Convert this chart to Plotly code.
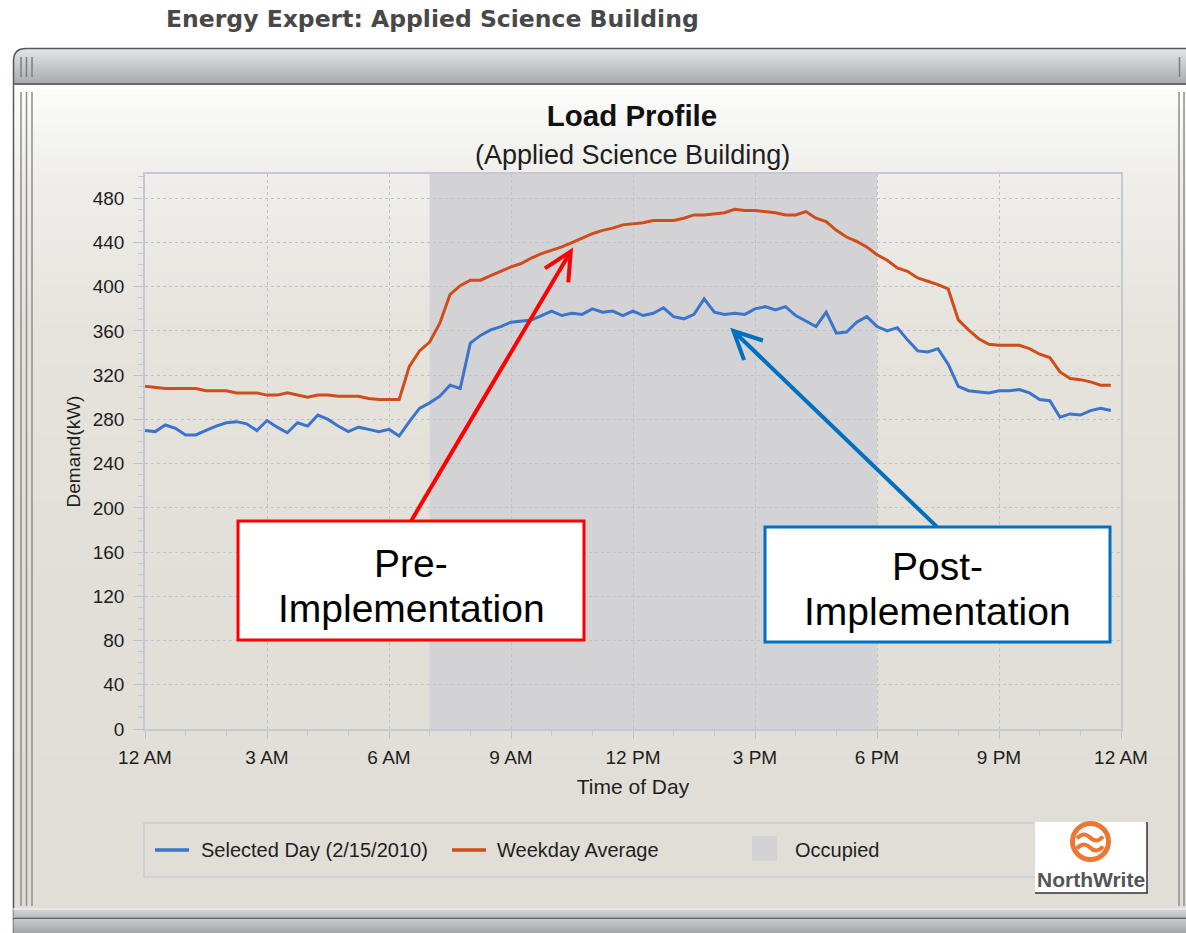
import math
import plotly.graph_objects as go

# ---------------- data ----------------
time_hours = [q / 4 for q in range(96)]  # 15-minute samples, 12 AM .. 11:45 PM

selected_day = [270, 269, 275, 272, 266, 266, 270, 274, 277, 278, 276, 270,
                279, 273, 268, 277, 274, 284, 280, 274, 269, 273, 271, 269,
                271, 265, 278, 290, 295, 301, 311, 308, 349, 356, 361, 364,
                368, 369, 370, 374, 378, 374, 376, 375, 380, 377, 378, 374,
                378, 374, 376, 381, 373, 371, 375, 389, 377, 375, 376, 375,
                380, 382, 379, 382, 374, 369, 364, 377, 358, 359, 368, 373,
                364, 360, 363, 352, 342, 341, 344, 330, 310, 306, 305, 304,
                306, 306, 307, 304, 298, 297, 282, 285, 284, 288, 290, 288]

weekday_average = [310, 309, 308, 308, 308, 308, 306, 306, 306, 304, 304, 304,
                   302, 302, 304, 302, 300, 302, 302, 301, 301, 301, 299, 298,
                   298, 298, 328, 342, 350, 367, 393, 401, 406, 406, 410, 414,
                   418, 421, 426, 430, 433, 436, 440, 444, 448, 451, 453, 456,
                   457, 458, 460, 460, 460, 462, 465, 465, 466, 467, 470, 469,
                   469, 468, 467, 465, 465, 468, 462, 459, 451, 445, 441, 436,
                   429, 424, 417, 414, 408, 405, 402, 398, 370, 361, 353, 348,
                   347, 347, 347, 344, 339, 336, 323, 317, 316, 314, 311, 311]

series_names = ["Selected Day (2/15/2010)", "Weekday Average"]
occupied_label = "Occupied"
occupied_start, occupied_end = 7, 18

x_tick_vals = [0, 3, 6, 9, 12, 15, 18, 21, 24]
x_tick_text = ["12 AM", "3 AM", "6 AM", "9 AM", "12 PM", "3 PM", "6 PM", "9 PM", "12 AM"]
y_tick_vals = [0, 40, 80, 120, 160, 200, 240, 280, 320, 360, 400, 440, 480]
x_range, y_range = [0, 24], [0, 502]

# callout arrows (head, tail) in data units
pre_head, pre_tail = (10.47, 432), (6.54, 188)
post_head, post_tail = (14.47, 360), (19.47, 183)

# ---------------- styling ----------------
W, H = 1186, 933
PL, PT, PW, PH = 145, 174, 976, 555
FONT = "Liberation Sans, Arial, sans-serif"
BLUE = "#3b74cc"
ORANGE = "#cf4d1b"
GRID = "#bcc3cd"
AXIS = "#c3c8d1"
OCC = "#d3d3d5"
TXT = "#1e1e1e"
RED = "#ff0000"
CALLBLUE = "#0070c0"


def fx(x):
    return (x - PL) / PW


def fy(y):
    return (PT + PH - y) / PH


def data_px(h, v):
    return (PL + (h - x_range[0]) * PW / (x_range[1] - x_range[0]),
            PT + PH - (v - y_range[0]) * PH / (y_range[1] - y_range[0]))


shapes = []


def rect(x0, y0, x1, y1, fill=None, line=None, lw=0, layer="below"):
    shapes.append(dict(type="rect", xref="paper", yref="paper",
                       x0=fx(x0), x1=fx(x1), y0=fy(y1), y1=fy(y0),
                       fillcolor=fill or "rgba(0,0,0,0)",
                       line=dict(color=line or "rgba(0,0,0,0)", width=lw),
                       layer=layer))


def seg(x0, y0, x1, y1, color, lw, layer="below"):
    shapes.append(dict(type="line", xref="paper", yref="paper",
                       x0=fx(x0), y0=fy(y0), x1=fx(x1), y1=fy(y1),
                       line=dict(color=color, width=lw), layer=layer))


def path(cmds, fill=None, line=None, lw=0, layer="below"):
    parts = []
    for c, pts in cmds:
        coords = []
        for i in range(0, len(pts), 2):
            coords.append("%.6f,%.6f" % (fx(pts[i]), fy(pts[i + 1])))
        parts.append(c + " ".join(coords))
    shapes.append(dict(type="path", xref="paper", yref="paper",
                       path=" ".join(parts) + (" Z" if fill else ""),
                       fillcolor=fill or "rgba(0,0,0,0)",
                       line=dict(color=line or "rgba(0,0,0,0)", width=lw),
                       layer=layer))


def hex2rgb(h):
    h = h.lstrip("#")
    return [int(h[i:i + 2], 16) for i in (0, 2, 4)]


def gradient(x0, x1, stops, step):
    for (ya, ca), (yb, cb) in zip(stops[:-1], stops[1:]):
        a, b = hex2rgb(ca), hex2rgb(cb)
        y = ya
        while y < yb:
            y2 = min(y + step, yb)
            t = (y - ya) / max(yb - ya, 1)
            c = [round(a[k] + (b[k] - a[k]) * t) for k in range(3)]
            rect(x0, y, x1, y2 + 0.6, fill="rgb(%d,%d,%d)" % tuple(c))
            y = y2


# window content panel (vertical gradient)
gradient(13, 1186, [(84, "#fcfcfb"), (175, "#efeeea"), (330, "#e6e3dd"),
                    (600, "#e2dfd8"), (908, "#e1ded7")], 5)
# title bar
gradient(13, 1186, [(48, "#e3e4e5"), (84, "#a6a9ac")], 2)
# rounded top-left corner mask + frame outline
path([("M", [11, 46]), ("L", [26, 46]), ("L", [26, 48.5]), ("Q", [13.5, 48.5, 13.5, 61]),
      ("L", [11, 61])], fill="white")
path([("M", [13.5, 933]), ("L", [13.5, 61]), ("Q", [13.5, 48.5, 26, 48.5]),
      ("L", [1186, 48.5])], line="#55585b", lw=1.5)
seg(13.5, 84, 1186, 84, "#66696c", 2)
# grips
for gx in (21, 26.5, 32):
    seg(gx, 57, gx, 77, "#7c7f82", 1.5)
    seg(gx, 92, gx, 906, "#8e8e8e", 1.5)
seg(1179.5, 57, 1179.5, 77, "#7c7f82", 1.5)
seg(1179, 92, 1179, 906, "#8e8e8e", 1.5)
seg(1184, 92, 1184, 906, "#8e8e8e", 1.5)
# bottom bar
gradient(13.5, 1186, [(908, "#d6d7d8"), (918, "#b4b6b8")], 2)
seg(13.5, 909, 1186, 909, "#eeeeee", 1.5)
seg(13.5, 918.5, 1186, 918.5, "#5c5e60", 1.5)
gradient(13.5, 1186, [(919.5, "#c4c6c8"), (933, "#9fa2a5")], 2)

# legend (box, keys)
rect(144, 823, 1120, 877, line="#c6cbd3", lw=1.5)
seg(155, 850, 189, 850, BLUE, 3.5)
seg(452, 850, 486, 850, ORANGE, 3.5)
rect(752, 836, 777, 861, fill=OCC)

# NorthWrite logo
rect(1035, 822, 1147, 893, fill="white")
seg(1147, 822, 1147, 893.5, "#333333", 1.5)
seg(1035, 893, 1147.5, 893, "#333333", 1.5)
shapes.append(dict(type="circle", xref="paper", yref="paper",
                   x0=fx(1072.5), x1=fx(1108.5), y0=fy(859.5), y1=fy(823.5),
                   line=dict(color="#ec7633", width=5), layer="below"))
for wy in (837.5, 847.5):
    path([("M", [1077, wy + 1]), ("Q", [1083.5, wy - 6.5, 1090, wy]), ("Q", [1096.5, wy + 6.5, 1103, wy - 1])],
         line="#ec7633", lw=4)

# callout boxes (above plot)
rect(238, 521, 584, 640, fill="white", line=RED, lw=3, layer="above")
rect(765, 527, 1110, 642, fill="white", line=CALLBLUE, lw=3, layer="above")

# callout arrows: shaft + open chevron head
for head, tail, col in ((pre_head, pre_tail, RED), (post_head, post_tail, CALLBLUE)):
    hx, hy = data_px(*head)
    tx, ty = data_px(*tail)
    seg(tx, ty, hx, hy, col, 4, layer="above")
    ang = math.atan2(ty - hy, tx - hx)
    arms = []
    for s in (1, -1):
        a = ang + s * math.radians(26)
        arms.append((hx + 31 * math.cos(a), hy + 31 * math.sin(a)))
    path([("M", [arms[0][0], arms[0][1]]), ("L", [hx, hy]), ("L", [arms[1][0], arms[1][1]])],
         line=col, lw=4, layer="above")

# ---------------- figure ----------------
fig = go.Figure()
fig.add_trace(go.Scatter(x=time_hours, y=selected_day, mode="lines", name=series_names[0],
                         line=dict(color=BLUE, width=3), showlegend=False))
fig.add_trace(go.Scatter(x=time_hours, y=weekday_average, mode="lines", name=series_names[1],
                         line=dict(color=ORANGE, width=3), showlegend=False))
fig.add_vrect(x0=occupied_start, x1=occupied_end, fillcolor=OCC, opacity=1,
              line_width=0, layer="below")


def ann(text, x, y, size, color=TXT, weight="normal", family=FONT, xanchor="center"):
    return dict(text=text, x=fx(x), y=fy(y), xref="paper", yref="paper",
                showarrow=False, xanchor=xanchor, yanchor="middle",
                font=dict(size=size, color=color, family=family, weight=weight))


annotations = [
    ann("Energy Expert: Applied Science Building", 432, 19, 23.5, "#484848", "bold",
        "DejaVu Sans, Verdana, sans-serif"),
    ann("(Applied Science Building)", 632, 155, 27, TXT),
    ann(series_names[0], 199, 850, 20, TXT, xanchor="left"),
    ann(series_names[1], 495, 850, 20, TXT, xanchor="left"),
    ann(occupied_label, 793, 850, 20, TXT, xanchor="left"),
    ann("NorthWrite", 1091, 879, 21, "#545557", "bold"),
    ann("Pre-", 411, 563, 39, "#000000"),
    ann("Implementation", 411, 608, 39, "#000000"),
    ann("Post-", 937, 566, 39, "#000000"),
    ann("Implementation", 937, 611, 39, "#000000"),
]

fig.update_layout(
    width=W, height=H,
    margin=dict(l=PL, r=W - PL - PW, t=PT, b=H - PT - PH, pad=0),
    paper_bgcolor="white", plot_bgcolor="rgba(0,0,0,0)",
    font=dict(family=FONT, size=19, color=TXT),
    title=dict(text="Load Profile", x=632 / W, xanchor="center", xref="container",
               y=1 - 116 / H, yanchor="middle", yref="container",
               font=dict(size=29.5, color="#111111", family=FONT, weight="bold")),
    showlegend=False,
    shapes=shapes + list(fig.layout.shapes),
    annotations=annotations,
)
fig.update_xaxes(range=x_range, tickmode="array", tickvals=x_tick_vals, ticktext=x_tick_text,
                 showgrid=True, gridcolor=GRID, griddash="dot", gridwidth=1,
                 showline=True, linecolor=AXIS, linewidth=1.5, mirror=True, zeroline=False,
                 ticks="outside", ticklen=8, tickcolor=GRID, tickwidth=1,
                 minor=dict(tickmode="linear", tick0=0, dtick=1, ticks="outside", ticklen=5,
                            tickcolor=AXIS, showgrid=False),
                 tickfont=dict(size=19, color=TXT), ticklabelstandoff=2,
                 title=dict(text="Time of Day", font=dict(size=21, color=TXT), standoff=13))
fig.update_yaxes(range=y_range, tickmode="array", tickvals=y_tick_vals,
                 showgrid=True, gridcolor=GRID, griddash="dot", gridwidth=1,
                 showline=True, linecolor=AXIS, linewidth=1.5, mirror=True, zeroline=False,
                 ticks="outside", ticklen=10, tickcolor=GRID, tickwidth=1,
                 minor=dict(tickmode="linear", tick0=0, dtick=10, ticks="outside", ticklen=5,
                            tickcolor=AXIS, showgrid=False),
                 tickfont=dict(size=19, color=TXT), ticklabelstandoff=5,
                 title=dict(text="Demand(kW)", font=dict(size=19, color=TXT), standoff=7))

fig.write_html("out.html", config={"displayModeBar": False},
               post_script="document.body.style.margin='0';document.body.style.overflow='hidden';")
